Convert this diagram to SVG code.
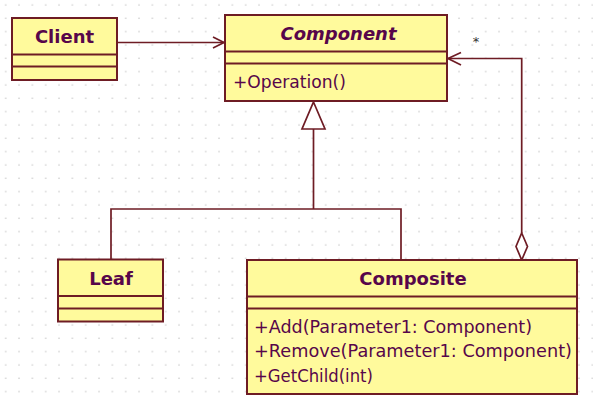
<svg xmlns="http://www.w3.org/2000/svg" width="593" height="402" viewBox="0 0 593 402">
<defs>
<pattern id="grid" patternUnits="userSpaceOnUse" x="0" y="0" width="13.333" height="13.333">
<rect x="5" y="4.3" width="1.4" height="1.4" fill="#cfcfcf"/>
</pattern>
<style>
.box{fill:#fffa9c;stroke:#6e1c24;stroke-width:2}
.sep{stroke:#6e1c24;stroke-width:2}
.title{font-family:"DejaVu Sans",Verdana,sans-serif;font-weight:bold;font-size:18px;fill:#57064a;text-anchor:middle}
.ital{font-style:italic}
.op{font-family:"DejaVu Sans",Verdana,sans-serif;font-size:18px;fill:#57064a}
.ln{fill:none;stroke:#6e1c24;stroke-width:1.7}
.star{font-family:"DejaVu Sans",sans-serif;font-size:13px;fill:#333}
</style>
</defs>
<rect width="593" height="402" fill="#ffffff"/>
<rect width="593" height="402" fill="url(#grid)"/>

<g id="connectors">
<line class="ln" x1="117" y1="42.5" x2="224" y2="42.5"/>
<polyline class="ln" points="213,37 224,42.5 213,48"/>
<polyline class="ln" points="521.7,233 521.7,58.5 448,58.5"/>
<polyline class="ln" points="461,52.5 448,58.5 461,65"/>
<polygon class="ln" fill="#ffffff" points="521.7,233 527.5,246.5 521.7,260 516,246.5"/>
<text class="star" x="476" y="46" text-anchor="middle">*</text>
<polygon class="ln" style="fill:#ffffff" points="313.5,102 325,129 302,129"/>
<line class="ln" x1="313.5" y1="129" x2="313.5" y2="209"/>
<polyline class="ln" points="111,259.5 111,209 401,209 401,260"/>
</g>

<g id="Client">
<rect class="box" x="12" y="18" width="105" height="62"/>
<line class="sep" x1="12" y1="54.5" x2="117" y2="54.5"/>
<line class="sep" x1="12" y1="66.5" x2="117" y2="66.5"/>
<text class="title" x="64.5" y="43">Client</text>
</g>

<g id="Component">
<rect class="box" x="225" y="15" width="222" height="86"/>
<line class="sep" x1="225" y1="51.5" x2="447" y2="51.5"/>
<line class="sep" x1="225" y1="63.5" x2="447" y2="63.5"/>
<text class="title ital" x="338.5" y="40" font-size="17.5">Component</text>
<text class="op" x="233" y="88" textLength="113" lengthAdjust="spacingAndGlyphs">+Operation()</text>
</g>

<g id="Leaf">
<rect class="box" x="58" y="259.5" width="105" height="62"/>
<line class="sep" x1="58" y1="296" x2="163" y2="296"/>
<line class="sep" x1="58" y1="308.5" x2="163" y2="308.5"/>
<text class="title" x="111" y="284.5">Leaf</text>
</g>

<g id="Composite">
<rect class="box" x="247" y="260" width="330" height="134"/>
<line class="sep" x1="247" y1="296.5" x2="577" y2="296.5"/>
<line class="sep" x1="247" y1="308.5" x2="577" y2="308.5"/>
<text class="title" x="413" y="284.5">Composite</text>
<text class="op" x="254" y="333" textLength="278" lengthAdjust="spacingAndGlyphs">+Add(Parameter1: Component)</text>
<text class="op" x="254" y="357" textLength="318" lengthAdjust="spacingAndGlyphs">+Remove(Parameter1: Component)</text>
<text class="op" x="254" y="381.5" textLength="119" lengthAdjust="spacingAndGlyphs">+GetChild(int)</text>
</g>
</svg>
